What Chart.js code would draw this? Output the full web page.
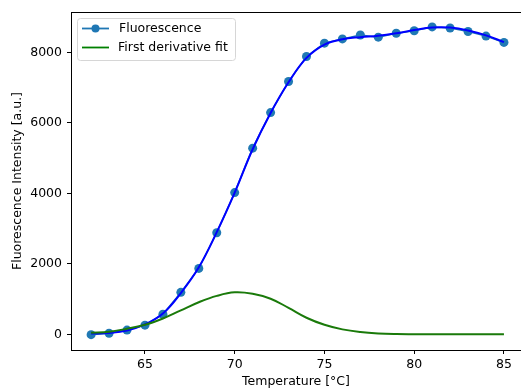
<!DOCTYPE html>
<html>
<head>
<meta charset="utf-8">
<script src="https://cdn.jsdelivr.net/npm/chart.js@4"></script>
<style>
html,body{margin:0;padding:0;background:#fff;overflow:hidden;}
#wrap{position:relative;width:521px;height:392px;}
</style>
</head>
<body>
<div id="wrap"><canvas id="c" width="521" height="392"></canvas></div>
<script>
const temperatures = [62,63,64,65,66,67,68,69,70,71,72,73,74,75,76,77,78,79,80,81,82,83,84,85];
const fluorescence = [-10,30,120,260,570,1190,1870,2880,4020,5280,6290,7170,7880,8260,8380,8490,8430,8540,8610,8720,8690,8590,8460,8280];
const fluorescenceFit = [20,40,110,280,590,1170,1900,2900,4020,5250,6280,7150,7840,8220,8370,8430,8470,8540,8630,8700,8700,8620,8480,8290];
const derivativeFit = [45,70,160,270,450,680,910,1090,1190,1150,1010,750,470,270,140,65,25,8,3,0,0,0,0,0];
const xTickValues = [65,70,75,80,85];
const yTickValues = [0,2000,4000,6000,8000];
const FONT = 'DejaVu Sans';
const FS = 12.5;

const toPts = (ys) => temperatures.map((t,i)=>({x:t,y:ys[i]}));

const legendPlugin = {
  id: 'mplLegend',
  afterDraw(chart){
    const ctx = chart.ctx;
    const ca = chart.chartArea;
    ctx.save();
    ctx.strokeStyle = '#000';
    ctx.lineWidth = 1;
    ctx.beginPath();
    ctx.moveTo(ca.left, Math.round(ca.top)+0.5);
    ctx.lineTo(ca.right, Math.round(ca.top)+0.5);
    ctx.stroke();
    const bx = 77.5, by = 18.5, bw = 158, bh = 42, r = 3;
    ctx.fillStyle = 'rgba(255,255,255,0.8)';
    ctx.strokeStyle = '#d6d6d6';
    ctx.beginPath();
    ctx.moveTo(bx+r,by);
    ctx.lineTo(bx+bw-r,by); ctx.quadraticCurveTo(bx+bw,by,bx+bw,by+r);
    ctx.lineTo(bx+bw,by+bh-r); ctx.quadraticCurveTo(bx+bw,by+bh,bx+bw-r,by+bh);
    ctx.lineTo(bx+r,by+bh); ctx.quadraticCurveTo(bx,by+bh,bx,by+bh-r);
    ctx.lineTo(bx,by+r); ctx.quadraticCurveTo(bx,by,bx+r,by);
    ctx.closePath();
    ctx.fill(); ctx.stroke();
    const y1 = 28.5, y2 = 47.5;
    ctx.strokeStyle = '#1f77b4'; ctx.lineWidth = 1.8;
    ctx.beginPath(); ctx.moveTo(82,y1); ctx.lineTo(109,y1); ctx.stroke();
    ctx.fillStyle = '#1f77b4';
    ctx.beginPath(); ctx.arc(95.5,y1,4,0,Math.PI*2); ctx.fill();
    ctx.strokeStyle = '#008000'; ctx.lineWidth = 1.8;
    ctx.beginPath(); ctx.moveTo(82,y2); ctx.lineTo(109,y2); ctx.stroke();
    ctx.fillStyle = '#000';
    ctx.font = FS + 'px "' + FONT + '"';
    ctx.textBaseline = 'middle';
    ctx.textAlign = 'left';
    ctx.fillText('Fluorescence', 119, y1);
    ctx.fillText('First derivative fit', 118, y2);
    ctx.restore();
  }
};

new Chart(document.getElementById('c'), {
  type: 'line',
  data: {
    datasets: [
      {
        label: 'Fluorescence fit',
        data: toPts(fluorescenceFit),
        borderColor: '#0000ff',
        borderWidth: 2,
        pointRadius: 0,
        tension: 0.4,
        fill: false,
        order: 1
      },
      {
        label: 'Fluorescence',
        data: toPts(fluorescence),
        borderColor: '#1f77b4',
        backgroundColor: '#1f77b4',
        borderWidth: 1.5,
        pointRadius: 4.5,
        pointBorderWidth: 0,
        pointBackgroundColor: '#2079b4',
        tension: 0,
        fill: false,
        order: 2
      },
      {
        label: 'First derivative fit',
        data: toPts(derivativeFit),
        borderColor: '#1a7a0a',
        borderWidth: 2,
        pointRadius: 0,
        tension: 0.4,
        fill: false,
        order: 0
      }
    ]
  },
  options: {
    responsive: false,
    animation: false,
    events: [],
    layout: { autoPadding: false, padding: { left: 0, top: 12, right: 0, bottom: 0 } },
    plugins: { legend: { display: false }, tooltip: { enabled: false } },
    scales: {
      x: {
        type: 'linear',
        min: 60.88,
        max: 85.95,
        afterBuildTicks: (s) => { s.ticks = xTickValues.map(v => ({value: v})); },
        afterFit: (s) => { s.height = 42; s.paddingLeft = 0; s.paddingRight = 0; },
        grid: { drawOnChartArea: false, drawTicks: true, tickLength: 4, tickColor: '#000', tickWidth: 1 },
        border: { display: true, color: '#000', width: 1 },
        ticks: { color: '#000', font: { family: FONT, size: FS }, padding: 3, maxRotation: 0, callback: (v) => String(v) },
        title: { display: true, text: 'Temperature [°C]', color: '#000', font: { family: FONT, size: FS }, padding: { top: 0, bottom: 3 } }
      },
      y: {
        type: 'linear',
        min: -445,
        max: 9143,
        afterBuildTicks: (s) => { s.ticks = yTickValues.map(v => ({value: v})); },
        afterFit: (s) => { s.width = 71; s.paddingTop = 0; s.paddingBottom = 0; },
        grid: { drawOnChartArea: false, drawTicks: true, tickLength: 4, tickColor: '#000', tickWidth: 1 },
        border: { display: true, color: '#000', width: 1 },
        ticks: { color: '#000', font: { family: FONT, size: FS }, padding: 5, callback: (v) => String(v) },
        title: { display: true, text: 'Fluorescence Intensity [a.u.]', color: '#000', font: { family: FONT, size: FS }, padding: { top: 10, bottom: 0 } }
      }
    }
  },
  plugins: [legendPlugin]
});
</script>
</body>
</html>
